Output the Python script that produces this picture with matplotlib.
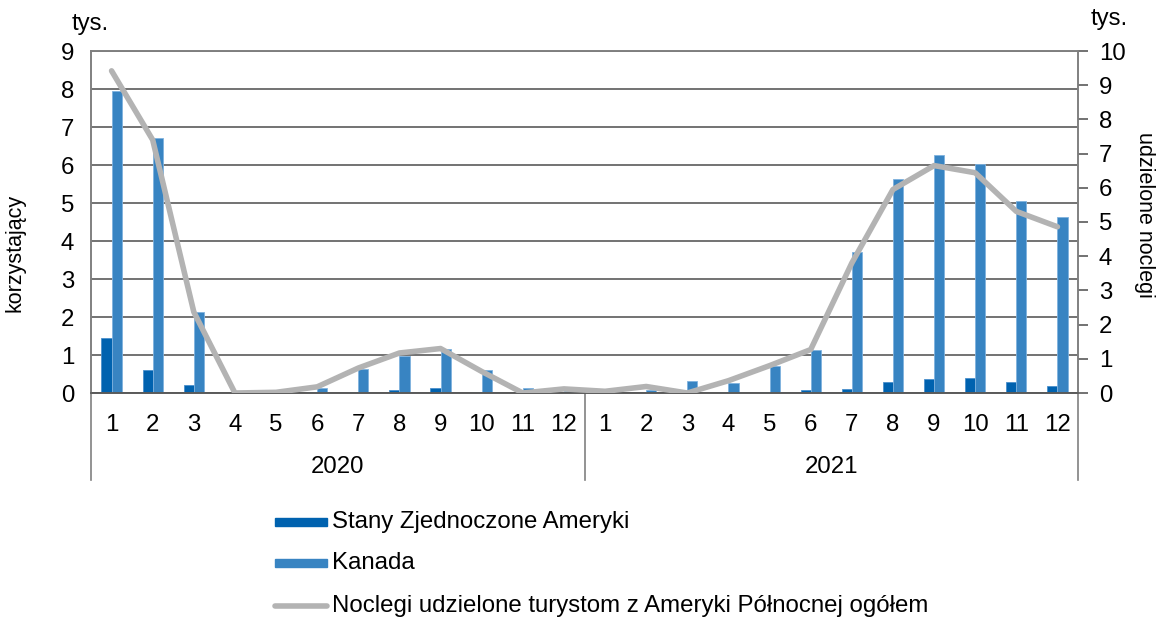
import matplotlib
matplotlib.use("Agg")
import matplotlib.pyplot as plt
from matplotlib.lines import Line2D
from matplotlib.patches import Rectangle
import numpy as np

plt.rcParams['font.family'] = ['Liberation Sans', 'DejaVu Sans']

months = [str(m) for m in range(1, 13)] * 2
years = ['2020', '2021']
usa = [1.46, 0.61, 0.22, 0.0, 0.0, 0.02, 0.02, 0.07, 0.13, 0.02, 0.01, 0.01,
       0.0, 0.01, 0.01, 0.02, 0.02, 0.09, 0.10, 0.29, 0.37, 0.40, 0.29, 0.19]
kanada = [7.96, 6.71, 2.12, 0.01, 0.01, 0.13, 0.63, 0.98, 1.17, 0.61, 0.13, 0.04,
          0.02, 0.08, 0.32, 0.26, 0.70, 1.14, 3.72, 5.63, 6.26, 6.03, 5.04, 4.63]
noclegi = [9.42, 7.40, 2.37, 0.0, 0.02, 0.18, 0.73, 1.17, 1.30, 0.63, 0.0, 0.12,
           0.05, 0.19, 0.0, 0.36, 0.80, 1.27, 3.80, 5.95, 6.65, 6.44, 5.31, 4.86]

c_usa = '#0062AF'
c_kan = '#3884C2'
c_line = '#B3B3B3'
c_grid = '#5A5A5A'
FS = 17.3

fig = plt.figure(figsize=(11.57, 6.19), dpi=100)
ax = fig.add_axes([91/1157, 1-393/619, (1078-91)/1157, (393-51)/619])
ax2 = ax.twinx()

x = np.arange(len(months))
w = 0.245
ax.bar(x - w/2, usa, w, color=c_usa, edgecolor='#4A8FCC', linewidth=0.6, zorder=2)
ax.bar(x + w/2, kanada, w, color=c_kan, edgecolor='#7FB2DE', linewidth=0.6, zorder=2)
ax.set_xlim(-0.5, len(months) - 0.5)
ax.set_ylim(0, 9)
ax.set_yticks(range(0, 10))
ax.yaxis.grid(True, color=c_grid, linewidth=1.2, zorder=1)
ax.set_axisbelow(True)
ax.tick_params(axis='y', length=0, labelsize=FS, pad=12)
ax.set_xticks(x)
ax.set_xticklabels(months)
ax.tick_params(axis='x', length=0, labelsize=FS, pad=15)

ax2.plot(x, noclegi, color=c_line, linewidth=4, solid_capstyle='round', zorder=3)
ax2.set_ylim(0, 10)
ax2.set_yticks(range(0, 11))
ax2.tick_params(axis='y', length=7, width=1.2, color=c_grid, labelsize=FS, pad=8, direction='out')

for a in (ax, ax2):
    for s in ('left', 'right', 'top'):
        a.spines[s].set_color('#808080')
        a.spines[s].set_linewidth(1.2)
    a.spines['bottom'].set_color(c_grid)
    a.spines['bottom'].set_linewidth(1.2)

ax.set_ylabel('korzystający', fontsize=15.5)
ax.yaxis.set_label_coords(-0.066, 0.41)
ax2.set_ylabel('udzielone noclegi', fontsize=15.5, rotation=270, labelpad=0)
ax2.yaxis.set_label_coords(1.078, 0.52)

fig.text(72/1157, 1-24/619, 'tys.', fontsize=FS, ha='left', va='center')
fig.text(1091/1157, 1-19/619, 'tys.', fontsize=FS, ha='left', va='center')

# category separators
for xs in (-0.5, 11.5, 23.5):
    ax.add_line(Line2D([xs, xs], [0, -0.255], transform=ax.get_xaxis_transform(),
                       color='#808080', linewidth=1.2, clip_on=False))
for i, yr in enumerate(years):
    ax.text(5.5 + 12*i, -0.215, yr, transform=ax.get_xaxis_transform(),
            ha='center', va='center', fontsize=FS)

# legend
fx = lambda px: px/1157
fy = lambda py: 1 - py/619
fig.patches.append(Rectangle((fx(275), fy(526)), fx(327)-fx(275), 8/619,
                             transform=fig.transFigure, color=c_usa))
fig.patches.append(Rectangle((fx(275), fy(567)), fx(327)-fx(275), 8/619,
                             transform=fig.transFigure, color=c_kan))
fig.lines.append(Line2D([fx(275), fx(327)], [fy(606), fy(606)], transform=fig.transFigure,
                        color=c_line, linewidth=4, solid_capstyle='round'))
fig.text(fx(332), fy(522), 'Stany Zjednoczone Ameryki', fontsize=FS, va='center')
fig.text(fx(332), fy(563), 'Kanada', fontsize=FS, va='center')
fig.text(fx(332), fy(606), 'Noclegi udzielone turystom z Ameryki Północnej ogółem', fontsize=FS, va='center')

fig.savefig('out.png', dpi=100)
